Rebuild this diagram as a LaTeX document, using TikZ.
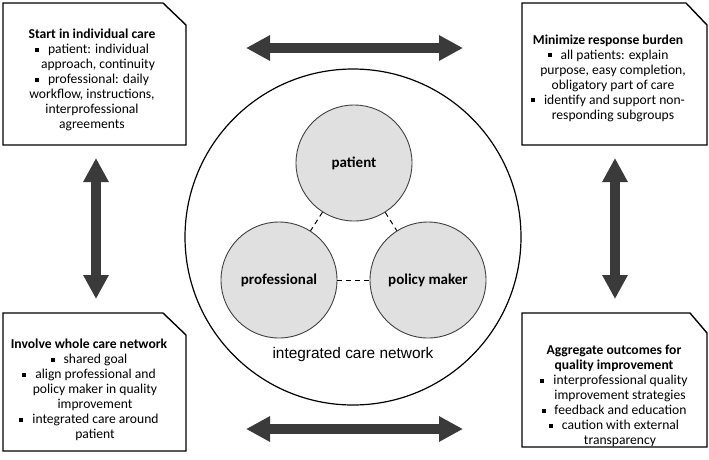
\documentclass[tikz,border=0pt]{standalone}
\usepackage{fontspec}
\setmainfont{Carlito}
\newfontfamily\arialf{Liberation Sans}
\usetikzlibrary{arrows.meta}
\newcommand\sqb{\raisebox{0.3ex}{\rule{4pt}{4pt}}\hspace{9pt}}
\definecolor{arrowgray}{HTML}{3A3A3A}
\definecolor{circfill}{HTML}{E0E0E0}
\definecolor{circline}{HTML}{404040}
\tikzset{
  boxline/.style={draw=black, line width=1.4pt, line join=miter},
  boxtext/.style={align=center, inner sep=0pt, font=\fontsize{13.6}{15}\selectfont},
  actor/.style={circle, draw=circline, fill=circfill, line width=0.9pt, minimum size=116pt, inner sep=0pt, font=\bfseries\fontsize{15}{17}\selectfont},
  link/.style={draw=black, line width=1pt, dash pattern=on 5pt off 4pt},
  bigarrow/.style={draw=arrowgray, line width=9.5pt, {Triangle[length=24pt,width=24pt]}-{Triangle[length=24pt,width=24pt]}}
}
\begin{document}
\begin{tikzpicture}[x=1pt,y=-1pt]
\useasboundingbox (0,0) rectangle (709,459);
\fill[white] (0,0) rectangle (709,459);
% boxes
\draw[boxline] (3,3) -- (163,3) -- (186,25) -- (186,145) -- (3,145) -- cycle;
\draw[boxline] (522,3) -- (686,3) -- (707,25) -- (707,145) -- (522,145) -- cycle;
\draw[boxline] (3,313) -- (163,313) -- (186,335) -- (186,451) -- (3,451) -- cycle;
\draw[boxline] (522,313) -- (690,313) -- (707,333) -- (707,447) -- (522,447) -- cycle;
% box texts
\node[boxtext] (tl) at (92,80) {\textbf{Start in individual care}\\
\sqb patient: individual\\
\hspace{12pt}approach, continuity\\
\sqb professional: daily\\
workflow, instructions,\\
interprofessional\\
agreements};
\node[boxtext] (tr) at (608,78) {\textbf{Minimize response burden}\\
\sqb all patients: explain\\
\hspace{10pt}purpose, easy completion,\\
\hspace{10pt}obligatory part of care\\
\sqb identify and support non-\\
\hspace{10pt}responding subgroups};
\node[boxtext] (bl) at (89,390) {\textbf{Involve whole care network}\\
\sqb shared goal\\
\sqb align professional and\\
\hspace{12pt}policy maker in quality\\
\hspace{12pt}improvement\\
\sqb integrated care around\\
\hspace{12pt}patient};
\node[boxtext] (br) at (614,396) {\textbf{Aggregate outcomes for}\\
\textbf{quality improvement}\\
\sqb interprofessional quality\\
\hspace{12pt}improvement strategies\\
\sqb feedback and education\\
\sqb caution with external\\
\hspace{12pt}transparency};
% central network
\node[circle, draw=black, line width=1.2pt, minimum size=336pt, inner sep=0pt] (net) at (353,237) {};
\node[font=\arialf\fontsize{15.4}{17}\selectfont] (netlabel) at (353,355) {integrated care network};
\node[actor] (pat) at (354,163) {patient};
\node[actor] (pro) at (279,280) {professional};
\node[actor] (pol) at (428,280) {policy maker};
\draw[link] (pat) -- (pro);
\draw[link] (pat) -- (pol);
\draw[link] (pro) -- (pol);
% arrows
\coordinate (ta) at (246,48); \coordinate (tb) at (463,48);
\coordinate (ba) at (246,429); \coordinate (bb) at (463,429);
\coordinate (la) at (96,158); \coordinate (lb) at (96,299);
\coordinate (ra) at (615,158); \coordinate (rb) at (615,299);
\draw[bigarrow] (ta) -- (tb);
\draw[bigarrow] (ba) -- (bb);
\draw[bigarrow] (la) -- (lb);
\draw[bigarrow] (ra) -- (rb);
\end{tikzpicture}
\end{document}
